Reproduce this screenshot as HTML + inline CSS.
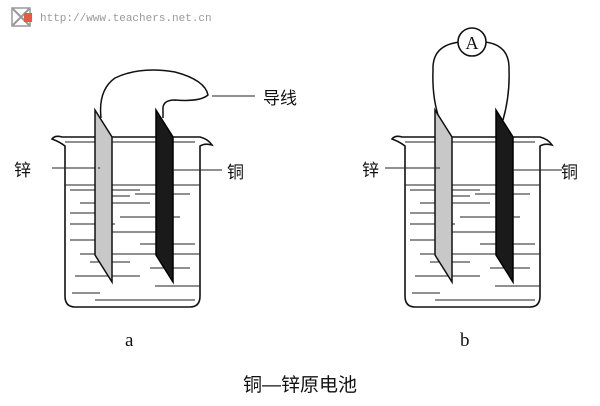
<!DOCTYPE html>
<html><head><meta charset="utf-8"><style>
html,body{margin:0;padding:0;background:#fff}
svg{display:block}
</style></head><body>
<svg width="600" height="406" viewBox="0 0 600 406" xmlns="http://www.w3.org/2000/svg" font-family="Liberation Sans, Noto Sans CJK SC, sans-serif">
<rect width="600" height="406" fill="#fff"/>
<!-- watermark -->
<g transform="translate(12,8)">
<rect x="0" y="0" width="18" height="18" fill="#fff" stroke="#999" stroke-width="1.5"/>
<path d="M0 0 L18 18 M18 0 L0 18" stroke="#999" stroke-width="2"/>
<rect x="12" y="5" width="8" height="9" fill="#e54"/>
</g>
<text x="40" y="21" font-family="Liberation Mono, monospace" font-size="11" fill="#999">http://www.teachers.net.cn</text>

<defs>
<g id="beaker">
<path d="M52 139 Q55 135 62 137 L200 137 Q208 139 212 145 Q205 143 200 146 L200 296 Q200 307 190 307 L75 307 Q65 307 65 296 L65 146 Q60 142 52 139 Z" fill="none" stroke="#111" stroke-width="1.6"/>
<g stroke="#222" stroke-width="1">
<line x1="65" y1="142" x2="195" y2="142"/>
<line x1="52" y1="168" x2="100" y2="168"/>
<line x1="65" y1="185" x2="200" y2="185"/>
<line x1="70" y1="190" x2="140" y2="190"/>
<line x1="100" y1="196" x2="130" y2="196"/>
<line x1="135" y1="194" x2="190" y2="194"/>
<line x1="80" y1="203" x2="150" y2="203"/>
<line x1="70" y1="213" x2="100" y2="213"/>
<line x1="70" y1="224" x2="115" y2="224"/>
<line x1="120" y1="217" x2="180" y2="217"/>
<line x1="105" y1="232" x2="165" y2="232"/>
<line x1="70" y1="240" x2="95" y2="240"/>
<line x1="140" y1="244" x2="195" y2="244"/>
<line x1="80" y1="254" x2="200" y2="254"/>
<line x1="90" y1="262" x2="130" y2="262"/>
<line x1="150" y1="268" x2="190" y2="268"/>
<line x1="75" y1="276" x2="140" y2="276"/>
<line x1="155" y1="286" x2="200" y2="286"/>
<line x1="72" y1="293" x2="100" y2="293"/>
<line x1="95" y1="300" x2="195" y2="300"/>
</g>
<!-- zinc plate -->
<path d="M95 110 L112 137 L112 282 L95 255 Z" fill="#c8c8c8" stroke="#111" stroke-width="1.5"/>
<line x1="98" y1="168" x2="100" y2="168" stroke="#222"/>
<!-- copper plate -->
<path d="M156 110 L173 137 L173 282 L156 255 Z" fill="#1a1a1a" stroke="#000" stroke-width="1.5"/>
<line x1="173" y1="170" x2="222" y2="170" stroke="#222" stroke-width="1"/>
</g>
</defs>

<use href="#beaker"/>
<!-- wire a -->
<path d="M101 118 Q98 90 115 78 Q140 66 175 72 Q205 80 208 95 Q200 102 175 100 Q162 100 163 110 L163 118" fill="none" stroke="#111" stroke-width="1.5"/>
<line x1="212" y1="96" x2="255" y2="96" stroke="#222" stroke-width="1"/>
<text x="263" y="104" font-size="17" fill="#111">导线</text>
<text x="14" y="176" font-size="17" fill="#111">锌</text>
<text x="227" y="178" font-size="17" fill="#111">铜</text>
<text x="125" y="346" font-family="Liberation Serif, serif" font-size="19" fill="#111">a</text>

<g transform="translate(340,0)"><use href="#beaker"/></g>
<!-- wire b -->
<path d="M438 115 Q432 95 433 70 Q432 45 460 42" fill="none" stroke="#111" stroke-width="1.5"/>
<path d="M503 120 Q510 95 509 70 Q510 45 485 42" fill="none" stroke="#111" stroke-width="1.5"/>
<circle cx="472" cy="42" r="14" fill="#fff" stroke="#111" stroke-width="1.6"/>
<text x="472" y="49" text-anchor="middle" font-family="Liberation Serif, serif" font-size="18" fill="#111">A</text>
<line x1="385" y1="168" x2="440" y2="168" stroke="#222" stroke-width="1"/>
<text x="362" y="176" font-size="17" fill="#111">锌</text>
<text x="561" y="178" font-size="17" fill="#111">铜</text>
<text x="460" y="346" font-family="Liberation Serif, serif" font-size="19" fill="#111">b</text>

<text x="300" y="391" text-anchor="middle" font-size="19" fill="#111">铜—锌原电池</text>
</svg>
</body></html>
